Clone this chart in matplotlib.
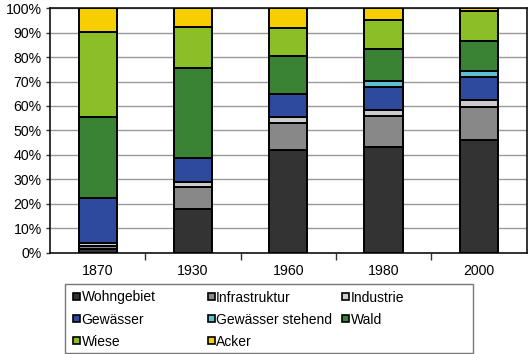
import matplotlib
matplotlib.use("Agg")
import matplotlib.pyplot as plt
from matplotlib.patches import Rectangle
import numpy as np

plt.rcParams['font.family'] = ['Liberation Sans', 'DejaVu Sans']

years = ["1870", "1930", "1960", "1980", "2000"]
categories = ["Wohngebiet", "Infrastruktur", "Industrie", "Gewässer",
              "Gewässer stehend", "Wald", "Wiese", "Acker"]
wohngebiet = [1.3, 18.0, 42.0, 43.2, 46.0]
infrastruktur = [1.5, 9.0, 11.0, 12.5, 13.5]
industrie = [1.0, 2.0, 2.5, 2.5, 3.0]
gewaesser = [18.7, 9.5, 9.5, 9.5, 9.5]
gewaesser_stehend = [0.0, 0.0, 0.0, 2.7, 2.5]
wald = [33.1, 37.0, 15.5, 13.0, 12.0]
wiese = [34.8, 17.0, 11.5, 12.0, 12.3]
acker = [9.6, 7.5, 8.0, 4.6, 1.2]
series = [wohngebiet, infrastruktur, industrie, gewaesser,
          gewaesser_stehend, wald, wiese, acker]
colors = ["#333333", "#888888", "#cccccc", "#2e4a9e",
          "#5cc0d0", "#3a8234", "#8cbf26", "#f7cf00"]
ytick_labels = ["0%", "10%", "20%", "30%", "40%", "50%", "60%", "70%", "80%", "90%", "100%"]

W, H = 529, 354
fig = plt.figure(figsize=(W / 100, H / 100), dpi=100)
ax = fig.add_axes([50 / W, 1 - 252.5 / H, (526.5 - 50) / W, (252.5 - 8.3) / H])

x = np.arange(len(years))
bottom = np.zeros(len(years))
for vals, c in zip(series, colors):
    v = np.array(vals)
    ax.bar(x, v, bottom=bottom, width=0.4, color=c, edgecolor="black",
           linewidth=1.4, zorder=3)
    bottom += v

ax.set_xlim(-0.5, len(years) - 0.5)
ax.set_ylim(0, 100)
ax.set_yticks(np.arange(0, 101, 10))
ax.set_yticklabels(ytick_labels, fontsize=10.2)
ax.yaxis.grid(True, color="#999999", linewidth=1.0, zorder=0)
ax.set_xticks(x)
ax.set_xticklabels(years, fontsize=10.2)
ax.tick_params(axis="x", which="major", length=0, pad=8)
ax.set_xticks(np.arange(-0.5, len(years), 1.0)[1:-1], minor=True)
ax.tick_params(axis="x", which="minor", length=5, width=1, color="#333333", direction="out")
ax.tick_params(axis="y", length=3, width=1, color="#333333", pad=3)
for s in ax.spines.values():
    s.set_color("#111111")
    s.set_linewidth(1.2)

# Legend drawn in figure pixel layout (Excel-style equal-width columns)
def fx(px):
    return px / W

def fy(py):
    return 1 - py / H

fig.patches.append(Rectangle((fx(65), fy(353)), fx(473) - fx(65), fy(284) - fy(353),
                             transform=fig.transFigure, facecolor="white",
                             edgecolor="#777777", linewidth=1.0))
col_x = [73, 207.5, 342]
row_y = [296.5, 318.5, 340.5]
sq = 7
for i, (lab, c) in enumerate(zip(categories, colors)):
    r, col = divmod(i, 3)
    mx, my = col_x[col], row_y[r]
    fig.patches.append(Rectangle((fx(mx), fy(my + sq / 2)), fx(sq), fy(0) - fy(sq),
                                 transform=fig.transFigure, facecolor=c,
                                 edgecolor="black", linewidth=1.2))
    fig.text(fx(mx + sq + 1.5), fy(my - 0.5), lab, fontsize=10, va="center_baseline",
             ha="left")

fig.savefig("out.png", dpi=100)
